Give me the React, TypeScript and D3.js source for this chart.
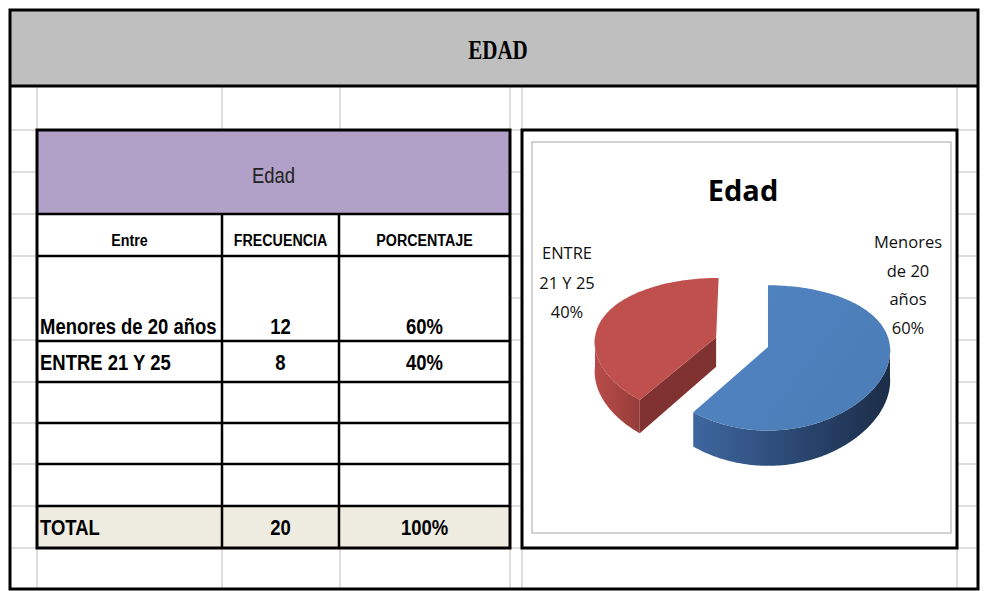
import React from "react";
import * as d3 from "d3";

// data
const categories = ["Menores de 20 años", "ENTRE 21 Y 25"];
const frequencies = [12, 8];
const headers = ["Entre", "FRECUENCIA", "PORCENTAJE"];
const pieLabelLines = [["Menores", "de 20", "años"], ["ENTRE", "21 Y 25"]];
const sheetTitle = "EDAD";
const tableTitle = "Edad";
const chartTitle = "Edad";

const W = 986;
const H = 591;
const total = d3.sum(frequencies);
const pct = d3.format(".0%");

// no Arial Narrow here, so Liberation Sans gets squeezed
const narrow = "'Liberation Sans', Arial, sans-serif";
const squeeze = 0.84;
const calibri = "'Open Sans', 'Noto Sans', sans-serif";

// spreadsheet layout
const gridX = [37, 222, 340, 510, 522, 957];
const gridY = [130, 172, 214, 256, 298, 340, 382, 423, 464, 506, 548];
const colX = [37, 222, 339, 510];
const rowY = [130, 214, 256, 341, 382, 423, 464, 506, 548];

// pie projection (fake perspective)
const cx = 768, cy = 347, rx = 122, ry = 71, depth = 30;
const proj = (u: number, v: number, h: number): [number, number] => {
  const s = 1 / (1 - 0.15 * v);
  const sx = 1 / (1 - 0.05 * v);
  return [cx + rx * u * sx, cy + s * (ry * v + h)];
};

const explode = [0, 0.45];
const topColors = ["#4F81BD", "#C0504D"];
const cutColors = ["#2B4A74", "#7F3230"];

const pie = d3.pie<number>().sort(null).value((d) => d);
const arcs = pie(frequencies);
const line = d3.line();

function slicePaths(a: d3.PieArcDatum<number>, i: number) {
  const mid = (a.startAngle + a.endAngle) / 2;
  const ou = explode[i] * Math.sin(mid);
  const ov = -explode[i] * Math.cos(mid);
  const pt = (ang: number, r: number, h: number) =>
    proj(ou + r * Math.sin(ang), ov - r * Math.cos(ang), h);
  const samples = (a0: number, a1: number) => {
    const n = Math.max(2, Math.ceil((a1 - a0) / 0.02));
    return d3.range(n + 1).map((k) => a0 + ((a1 - a0) * k) / n);
  };
  const top = [pt(0, 0, 0), ...samples(a.startAngle, a.endAngle).map((t) => pt(t, 1, 0))];
  const lo = Math.max(a.startAngle, Math.PI / 2);
  const hi = Math.min(a.endAngle, (3 * Math.PI) / 2);
  let wall: string | null = null;
  if (hi > lo) {
    const s = samples(lo, hi);
    const pts = [...s.map((t) => pt(t, 1, 0)), ...s.slice().reverse().map((t) => pt(t, 1, depth))];
    wall = line(pts) + "Z";
  }
  let cut: string | null = null;
  if (Math.sin(a.startAngle) < -0.01) {
    const t = a.startAngle;
    cut = line([pt(t, 0, 0), pt(t, 1, 0), pt(t, 1, depth), pt(t, 0, depth)]) + "Z";
  }
  return { top: line(top) + "Z", wall, cut };
}

const NText = ({ x, y, anchor = "start", size, bold = false, fill = "#000", children }: any) => (
  <text transform={`translate(${x},${y}) scale(${squeeze},1)`} textAnchor={anchor} fontFamily={narrow}
    fontSize={size} fontWeight={bold ? "bold" : "normal"} fill={fill}>{children}</text>
);

export default function App() {
  const slices = arcs.map((a, i) => ({ ...slicePaths(a, i), i }));
  const rows = categories.map((c, i) => ({ c, f: frequencies[i], p: pct(frequencies[i] / total) }));
  const colMid = (j: number) => (colX[j] + colX[j + 1]) / 2;

  return (
    <div style={{ position: "absolute", left: 0, top: 0 }}>
      <svg width={W} height={H} style={{ display: "block" }}>
        <rect width={W} height={H} fill="#fff" />
        {/* gridlines */}
        {gridX.map((x) => (
          <line key={"gx" + x} x1={x} x2={x} y1={86} y2={590} stroke="#D4D4D4" strokeWidth={1.5} />
        ))}
        {gridY.map((y) => (
          <line key={"gy" + y} x1={10} x2={978} y1={y} y2={y} stroke="#D4D4D4" strokeWidth={1.5} />
        ))}

        {/* header band */}
        <rect x={10} y={10} width={968} height={76} fill="#BFBFBF" />
        <text transform="translate(498,59) scale(0.78,1)" textAnchor="middle"
          fontFamily="'Liberation Serif', 'Times New Roman', serif" fontWeight="bold" fontSize={27}>
          {sheetTitle}
        </text>
        <line x1={10} x2={978} y1={86} y2={86} stroke="#000" strokeWidth={3} />
        <rect x={10} y={10} width={968} height={579} fill="none" stroke="#000" strokeWidth={3} />

        {/* table */}
        <rect x={colX[0]} y={rowY[0]} width={colX[3] - colX[0]} height={rowY[8] - rowY[0]} fill="#fff" />
        <rect x={colX[0]} y={rowY[0]} width={colX[3] - colX[0]} height={rowY[1] - rowY[0]} fill="#B1A0C7" />
        <rect x={colX[0]} y={rowY[7]} width={colX[3] - colX[0]} height={rowY[8] - rowY[7]} fill="#EEECE1" />
        {rowY.slice(1, 8).map((y) => (
          <line key={"r" + y} x1={colX[0]} x2={colX[3]} y1={y} y2={y} stroke="#000" strokeWidth={2.5} />
        ))}
        {colX.slice(1, 3).map((x) => (
          <line key={"c" + x} x1={x} x2={x} y1={rowY[1]} y2={rowY[8]} stroke="#000" strokeWidth={2.5} />
        ))}
        <rect x={colX[0]} y={rowY[0]} width={colX[3] - colX[0]} height={rowY[8] - rowY[0]} fill="none"
          stroke="#000" strokeWidth={3} />
        <NText x={(colX[0] + colX[3]) / 2} y={183} anchor="middle" size={22} fill="#222">{tableTitle}</NText>
        {headers.map((h, j) => (
          <NText key={h} x={colMid(j)} y={246} anchor="middle" size={17} bold>{h}</NText>
        ))}
        {rows.map((r, i) => {
          const y = i === 0 ? 334 : 370;
          return (
            <g key={r.c}>
              <NText x={colX[0] + 3} y={y} size={22} bold>{r.c}</NText>
              <NText x={colMid(1)} y={y} anchor="middle" size={22} bold>{r.f}</NText>
              <NText x={colMid(2)} y={y} anchor="middle" size={22} bold>{r.p}</NText>
            </g>
          );
        })}
        <NText x={colX[0] + 3} y={535} size={22} bold>TOTAL</NText>
        <NText x={colMid(1)} y={535} anchor="middle" size={22} bold>{total}</NText>
        <NText x={colMid(2)} y={535} anchor="middle" size={22} bold>{pct(1)}</NText>

        {/* chart */}
        <rect x={522} y={130} width={435} height={418} fill="#fff" stroke="#000" strokeWidth={3} />
        <rect x={532} y={142} width={419} height={391} fill="#fff" stroke="#A6A6A6" strokeWidth={1} />
        <text x={743} y={201} textAnchor="middle" fontFamily={calibri} fontWeight="bold" fontSize={29}>
          {chartTitle}
        </text>
        <defs>
          <linearGradient id="wall0" gradientUnits="userSpaceOnUse" x1={690} x2={890} y1={0} y2={0}>
            <stop offset="0" stopColor="#3F68A0" />
            <stop offset="0.55" stopColor="#2A4670" />
            <stop offset="1" stopColor="#1C2D48" />
          </linearGradient>
          <linearGradient id="wall1" gradientUnits="userSpaceOnUse" x1={597} x2={640} y1={0} y2={0}>
            <stop offset="0" stopColor="#B84B48" />
            <stop offset="1" stopColor="#943D3A" />
          </linearGradient>
          <linearGradient id="top0" gradientUnits="userSpaceOnUse" x1={700} x2={890} y1={290} y2={430}>
            <stop offset="0" stopColor="#5084C2" />
            <stop offset="1" stopColor="#4B7CB6" />
          </linearGradient>
        </defs>
        {slices.slice().reverse().map((s) => (
          <g key={"s" + s.i}>
            {s.cut && <path d={s.cut} fill={cutColors[s.i]} />}
            {s.wall && <path d={s.wall} fill={`url(#wall${s.i})`} />}
            <path d={s.top} fill={s.i === 0 ? "url(#top0)" : topColors[s.i]} />
          </g>
        ))}
        <g fontFamily={calibri} fontSize={16.5} fill="#111" textAnchor="middle">
          {[...pieLabelLines[0], pct(frequencies[0] / total)].map((t, k) => (
            <text key={"l0" + k} x={908} y={248 + k * 28.5}>{t}</text>
          ))}
          {[...pieLabelLines[1], pct(frequencies[1] / total)].map((t, k) => (
            <text key={"l1" + k} x={567} y={259 + k * 29.5}>{t}</text>
          ))}
        </g>
      </svg>
    </div>
  );
}
